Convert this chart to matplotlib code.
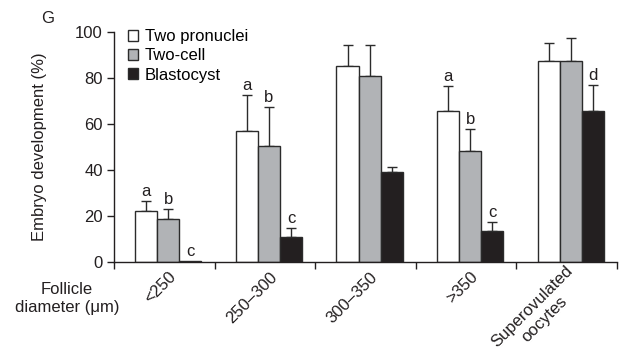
import numpy as np
import matplotlib
matplotlib.use("Agg")
from matplotlib import pyplot as plt
from matplotlib.transforms import ScaledTranslation

plt.rcParams['font.family'] = ['Liberation Sans', 'DejaVu Sans']

groups = ['<250', '250–300', '300–350', '>350', 'Superovulated\noocytes']
series = ['Two pronuclei', 'Two-cell', 'Blastocyst']

pronuclei = [22.0, 57.1, 85.1, 65.5, 87.5]
pronuclei_err = [4.7, 15.6, 9.1, 11.0, 7.8]
twocell = [18.8, 50.4, 81.0, 48.1, 87.5]
twocell_err = [4.1, 17.1, 13.2, 9.7, 9.7]
blasto = [0.5, 10.7, 39.0, 13.3, 65.8]
blasto_err = [0.0, 4.2, 2.4, 4.0, 11.2]

letters_pn = ['a', 'a', '', 'a', '']
letters_tc = ['b', 'b', '', 'b', '']
letters_bl = ['c', 'c', '', 'c', 'd']

colors = ['white', '#b1b3b6', '#231f20']
edge = '#2b2b2b'
txt = '#231f20'
fs = 12

fig = plt.figure(figsize=(6.21, 3.63), dpi=100)
ax = fig.add_axes([0.1836, 0.2782, 0.81, 0.6336])

x = np.arange(len(groups)) + 0.04
w = 0.219
data = [(pronuclei, pronuclei_err, letters_pn),
        (twocell, twocell_err, letters_tc),
        (blasto, blasto_err, letters_bl)]

for k, (vals, errs, labs) in enumerate(data):
    xs = x + (k - 1) * w
    ax.bar(xs, vals, w, color=colors[k], edgecolor=edge, linewidth=1.0,
           label=series[k], zorder=2)
    for xi, v, e, lab in zip(xs, vals, errs, labs):
        if e > 0:
            ax.errorbar(xi, v, yerr=[[0], [e]], fmt='none', ecolor=edge,
                        elinewidth=1.0, capsize=3.5, capthick=1.0, zorder=1)
        if lab:
            ax.annotate(lab, (xi, v + e), xytext=(0, 1.5), textcoords='offset points',
                        ha='center', va='bottom', fontsize=fs, color=txt)

ax.set_xlim(-0.5, 4.5)
ax.set_ylim(0, 100)
ax.set_yticks([0, 20, 40, 60, 80, 100])
ax.tick_params(axis='y', labelsize=fs, length=5, width=1, colors=txt, pad=3)
ax.set_xticks(np.arange(-0.5, 5, 1.0))
ax.set_xticklabels([])
ax.tick_params(axis='x', length=5, width=1, color=txt)
ax.spines['top'].set_visible(False)
ax.spines['right'].set_visible(False)
for s in ['left', 'bottom']:
    ax.spines[s].set_linewidth(1.0)
    ax.spines[s].set_color(txt)

# category labels, rotated
off = ScaledTranslation(7 / 72, -9 / 72, fig.dpi_scale_trans)
for i, g in enumerate(groups):
    ax.text(i, 0, g, transform=ax.get_xaxis_transform() + off, rotation=45,
            rotation_mode='anchor', ha='right', va='center', fontsize=fs,
            multialignment='center', linespacing=1.25, color=txt)

ax.set_ylabel('Embryo development (%)', fontsize=fs, color=txt)
ax.yaxis.set_label_coords(-0.133, 0.5)
fig.text(0.108, 0.178, 'Follicle\ndiameter (\u03bcm)', ha='center', va='center',
         fontsize=fs, linespacing=1.2, color=txt)
fig.text(0.076, 0.948, 'G', ha='center', va='center', fontsize=12, color=txt)

ax.legend(loc='upper left', bbox_to_anchor=(0.028, 1.012), frameon=False,
          fontsize=fs, handlelength=0.6, handleheight=0.6, handletextpad=0.4,
          labelspacing=0.25, borderaxespad=0, borderpad=0)

fig.savefig('out.png', dpi=100)
